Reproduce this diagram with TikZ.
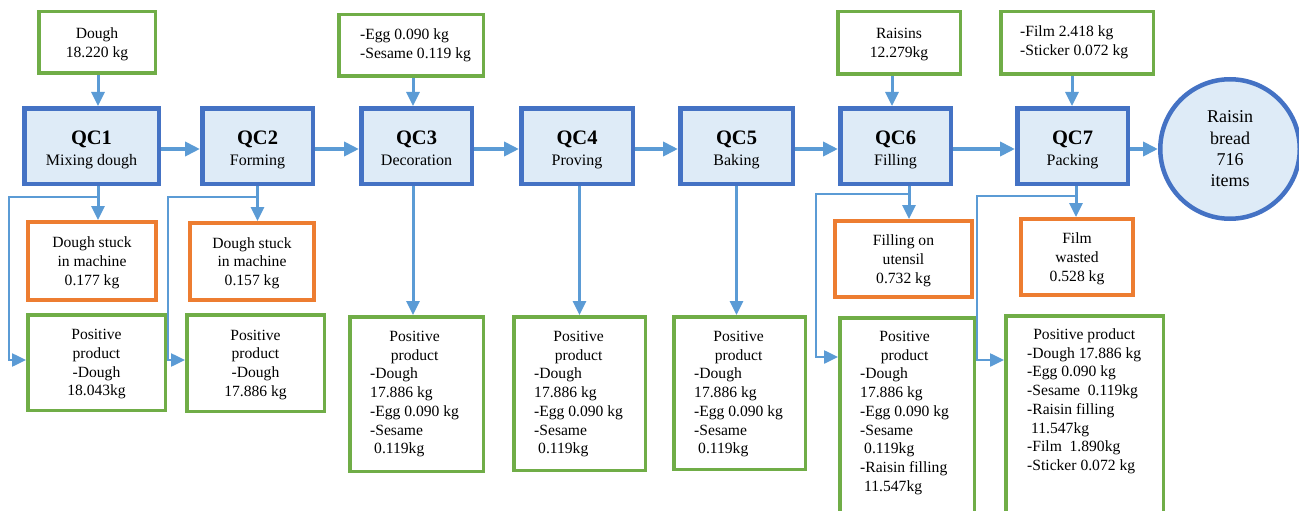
\documentclass[tikz,border=0pt]{standalone}
\usepackage{fontspec}
\setmainfont{Liberation Serif}
\usetikzlibrary{arrows.meta}
\definecolor{qcb}{HTML}{4472C4}
\definecolor{qcf}{HTML}{DEEBF7}
\definecolor{arb}{HTML}{5B9BD5}
\definecolor{grn}{HTML}{70AD47}
\definecolor{org}{HTML}{ED7D31}
\newcommand\bodyfs{\fontsize{15.6}{18.7}\selectfont}
\newcommand\qcfs{\fontsize{20.5}{21}\selectfont\bfseries}
\begin{document}
\begin{tikzpicture}[x=1pt,y=-1pt,
  qc/.style={draw=qcb, fill=qcf, line width=4.5pt, inner sep=0pt, align=center, font=\fontsize{16}{21}\selectfont, text height=38pt, text depth=0pt},
  inbox/.style={draw=grn, line width=3.5pt, inner sep=0pt, align=center, font=\bodyfs, text depth=0pt},
  waste/.style={draw=org, line width=4pt, inner sep=0pt, align=center, font=\bodyfs, text depth=0pt},
  outbox/.style={draw=grn, line width=3.5pt, inner sep=0pt, align=center, font=\bodyfs, text depth=0pt},
  txt/.style={inner sep=0pt, anchor=base west, font=\bodyfs},
  flow/.style={draw=arb, line width=4pt, -{Triangle[length=15pt,width=14pt]}},
  feed/.style={draw=arb, line width=3pt, -{Triangle[length=14pt,width=13pt]}},
  branch/.style={draw=arb, line width=2.5pt, -{Triangle[length=14pt,width=13pt]}},
]
\useasboundingbox (0,0) rectangle (1299,511);
\clip (0,0) rectangle (1299,511);

% inputs
\node[inbox, minimum width=116.5pt, minimum height=61.5pt] (in1) at (97,42.5) {Dough\\18.220 kg};
\node[inbox, minimum width=144.5pt, minimum height=61.5pt] (in3) at (411,45.5) {};
\node[txt] (in3t) at (360,40) {\begin{tabular}[t]{@{}l@{}}-Egg 0.090 kg\\-Sesame 0.119 kg\end{tabular}};
\node[inbox, minimum width=122.5pt, minimum height=62.5pt] (in6) at (899,43) {Raisins\\12.279kg};
\node[inbox, minimum width=152.5pt, minimum height=62.5pt] (in7) at (1077,43) {};
\node[txt] (in7t) at (1020,37) {\begin{tabular}[t]{@{}l@{}}-Film 2.418 kg\\-Sticker 0.072 kg\end{tabular}};

% QC steps
\node[qc, minimum width=134.5pt, minimum height=75.5pt] (q1) at (91.5,146) {{\qcfs QC1}\\Mixing dough};
\node[qc, minimum width=110.5pt, minimum height=75.5pt] (q2) at (257.5,146) {{\qcfs QC2}\\Forming};
\node[qc, minimum width=110.5pt, minimum height=75.5pt] (q3) at (416.5,146) {{\qcfs QC3}\\Decoration};
\node[qc, minimum width=111.5pt, minimum height=75.5pt] (q4) at (577,146) {{\qcfs QC4}\\Proving};
\node[qc, minimum width=112.5pt, minimum height=75.5pt] (q5) at (736.5,146) {{\qcfs QC5}\\Baking};
\node[qc, minimum width=110.5pt, minimum height=75.5pt] (q6) at (895.5,146) {{\qcfs QC6}\\Filling};
\node[qc, minimum width=110.5pt, minimum height=75.5pt] (q7) at (1072.5,146) {{\qcfs QC7}\\Packing};
\node[circle, draw=qcb, fill=qcf, line width=4.5pt, minimum size=139.5pt, inner sep=0pt, align=center, font=\fontsize{18}{21.3}\selectfont] (rb) at (1230,149) {Raisin\\bread\\716\\items};

% waste
\node[waste, minimum width=128pt, minimum height=78pt] (o1) at (92,261) {Dough stuck\\in machine\\0.177 kg};
\node[waste, minimum width=124pt, minimum height=77pt] (o2) at (252,261.5) {Dough stuck\\in machine\\0.157 kg};
\node[waste, minimum width=137pt, minimum height=76pt] (o6) at (903.5,259) {Filling on\\utensil\\0.732 kg};
\node[waste, minimum width=112pt, minimum height=76pt] (o7) at (1077,257) {Film\\wasted\\0.528 kg};

% positive products
\node[outbox, minimum width=137.5pt, minimum height=95.5pt] (p1) at (96.5,362.5) {Positive\\product\\-Dough\\18.043kg};
\node[outbox, minimum width=137.5pt, minimum height=96.5pt] (p2) at (255.5,363) {Positive\\product\\-Dough\\17.886 kg};
\node[outbox, minimum width=133.5pt, minimum height=154.5pt] (p3) at (416.5,394) {};
\node[outbox, minimum width=131.5pt, minimum height=153.5pt] (p4) at (579.5,393.5) {};
\node[outbox, minimum width=131.5pt, minimum height=152.5pt] (p5) at (739.5,393) {};
\node[outbox, minimum width=134.5pt, minimum height=210.5pt] (p6) at (907,423) {};
\node[outbox, minimum width=157.5pt, minimum height=212.5pt] (p7) at (1084.5,422) {};

\node[txt] (p3t) at (370,341.5) {\begin{tabular}[t]{@{}l@{}}\multicolumn{1}{@{}c@{}}{Positive}\\\multicolumn{1}{@{}c@{}}{product}\\-Dough\\17.886 kg\\-Egg 0.090 kg\\-Sesame\\\hspace{4pt}0.119kg\end{tabular}};
\node[txt] (p4t) at (534,341.5) {\begin{tabular}[t]{@{}l@{}}\multicolumn{1}{@{}c@{}}{Positive}\\\multicolumn{1}{@{}c@{}}{product}\\-Dough\\17.886 kg\\-Egg 0.090 kg\\-Sesame\\\hspace{4pt}0.119kg\end{tabular}};
\node[txt] (p5t) at (694,341.5) {\begin{tabular}[t]{@{}l@{}}\multicolumn{1}{@{}c@{}}{Positive}\\\multicolumn{1}{@{}c@{}}{product}\\-Dough\\17.886 kg\\-Egg 0.090 kg\\-Sesame\\\hspace{4pt}0.119kg\end{tabular}};
\node[txt] (p6t) at (860,341.5) {\begin{tabular}[t]{@{}l@{}}\multicolumn{1}{@{}c@{}}{Positive}\\\multicolumn{1}{@{}c@{}}{product}\\-Dough\\17.886 kg\\-Egg 0.090 kg\\-Sesame\\\hspace{4pt}0.119kg\\-Raisin filling\\\hspace{4pt}11.547kg\end{tabular}};
\node[txt] (p7t) at (1027,339.5) {\begin{tabular}[t]{@{}l@{}}\multicolumn{1}{@{}c@{}}{Positive product}\\-Dough 17.886 kg\\-Egg 0.090 kg\\-Sesame\ \ 0.119kg\\-Raisin filling\\\hspace{4pt}11.547kg\\-Film\ \ 1.890kg\\-Sticker 0.072 kg\end{tabular}};

% feed arrows
\draw[feed] ([xshift=1pt]in1.south) -- ([xshift=1pt]in1.south |- q1.north);
\draw[feed] ([xshift=2pt]in3.south) -- ([xshift=2pt]in3.south |- q3.north);
\draw[feed] ([xshift=-7pt]in6.south) -- ([xshift=-7pt]in6.south |- q6.north);
\draw[feed] ([xshift=-5pt]in7.south) -- ([xshift=-5pt]in7.south |- q7.north);

% main flow
\draw[flow] ([yshift=-3pt]q1.east) -- ([yshift=-3pt]q2.west);
\draw[flow] ([yshift=-3pt]q2.east) -- ([yshift=-3pt]q3.west);
\draw[flow] ([yshift=-3pt]q3.east) -- ([yshift=-3pt]q4.west);
\draw[flow] ([yshift=-3pt]q4.east) -- ([yshift=-3pt]q5.west);
\draw[flow] ([yshift=-3pt]q5.east) -- ([yshift=-3pt]q6.west);
\draw[flow] ([yshift=-3pt]q6.east) -- ([yshift=-3pt]q7.west);
\draw[flow] (q7.east |- rb.west) -- (rb.west);

% outputs down
\draw[feed] ([xshift=6.5pt]q1.south) -- ([xshift=6.5pt]q1.south |- o1.north);
\draw[feed] (q2.south) -- (q2.south |- o2.north);
\draw[feed] ([xshift=-3.5pt]q3.south) -- ([xshift=-3.5pt]q3.south |- p3.north);
\draw[feed] (p4.north |- q4.south) -- (p4.north);
\draw[feed] (q5.south) -- (q5.south |- p5.north);
\draw[feed] ([xshift=13.5pt]q6.south) -- ([xshift=13.5pt]q6.south |- o6.north);
\draw[feed] ([xshift=3.5pt]q7.south) -- ([xshift=3.5pt]q7.south |- o7.north);

% branches to positive product
\coordinate (b1) at (98,197);
\coordinate (b2) at (258,197);
\coordinate (b6) at (909,194);
\coordinate (b7) at (1076,196);
\draw[branch] (b1) -- (9,197) |- ([yshift=2.5pt]p1.west);
\draw[branch] (b2) -- (168,197) |- ([yshift=3pt]p2.west);
\draw[branch] (b6) -- (816,194) |- ([yshift=66pt]p6.west);
\draw[branch] (b7) -- (977,196) |- ([yshift=62pt]p7.west);
\end{tikzpicture}
\end{document}
